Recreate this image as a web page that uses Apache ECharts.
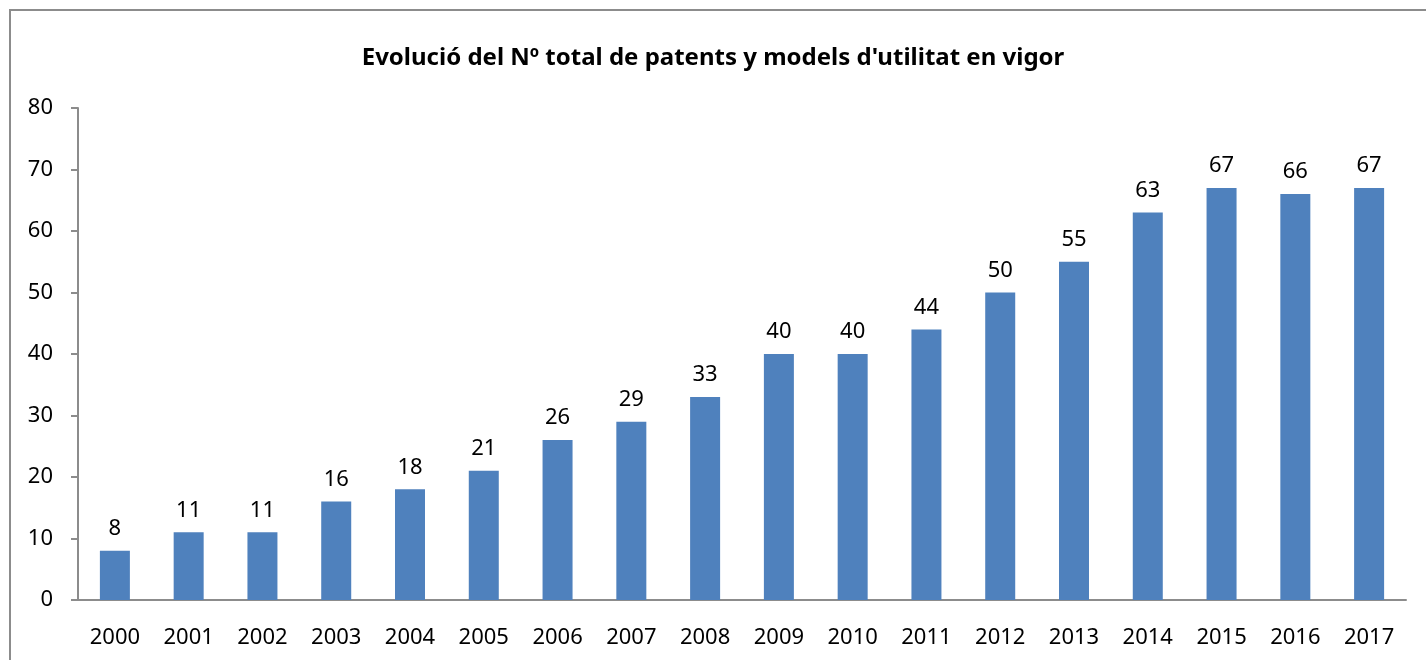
<!DOCTYPE html>
<html>
<head>
<meta charset="utf-8">
<script src="https://cdn.jsdelivr.net/npm/echarts@6/dist/echarts.min.js"></script>
<style>
  html, body { margin: 0; padding: 0; background: #fff; }
  #chart { width: 1426px; height: 660px; }
</style>
</head>
<body>
<div id="chart"></div>
<script>
  // anys i valors
  const years = ['2000', '2001', '2002', '2003', '2004', '2005', '2006', '2007', '2008',
    '2009', '2010', '2011', '2012', '2013', '2014', '2015', '2016', '2017'];
  const patents = [8, 11, 11, 16, 18, 21, 26, 29, 33, 40, 40, 44, 50, 55, 63, 67, 66, 67];
  const titleText = "Evolució del Nº total de patents y models d'utilitat en vigor";

  const myChart = echarts.init(document.getElementById('chart'));
  const font = 'Noto Sans';
  const option = {
    animation: false,
    textStyle: { fontFamily: font },
    graphic: [{
      type: 'rect',
      shape: { x: 10, y: 10, width: 1500, height: 800 },
      style: { fill: 'none', stroke: '#8c8c8c', lineWidth: 2 },
      silent: true
    }],
    title: {
      text: titleText,
      left: 'center',
      top: 41,
      textStyle: { fontFamily: font, fontSize: 24, fontWeight: 'bold', color: '#000' }
    },
    grid: { left: 78, right: 20, top: 108, bottom: 60, containLabel: false },
    xAxis: {
      type: 'category',
      data: years,
      axisLine: { lineStyle: { color: '#8c8c8c', width: 2 } },
      axisTick: { show: false },
      axisLabel: { color: '#000', fontSize: 22, margin: 27 }
    },
    yAxis: {
      type: 'value',
      min: 0,
      max: 80,
      interval: 10,
      axisLine: { show: true, lineStyle: { color: '#8c8c8c', width: 2 } },
      axisTick: { show: true, inside: false, length: 7, lineStyle: { color: '#8c8c8c', width: 2 } },
      splitLine: { show: false },
      axisLabel: { color: '#000', fontSize: 22, margin: 25 }
    },
    series: [{
      type: 'bar',
      data: patents,
      barWidth: 30,
      itemStyle: { color: '#4F81BD' },
      label: { show: true, position: 'top', distance: 11, color: '#000', fontSize: 22 }
    }]
  };
  myChart.setOption(option);
</script>
</body>
</html>
